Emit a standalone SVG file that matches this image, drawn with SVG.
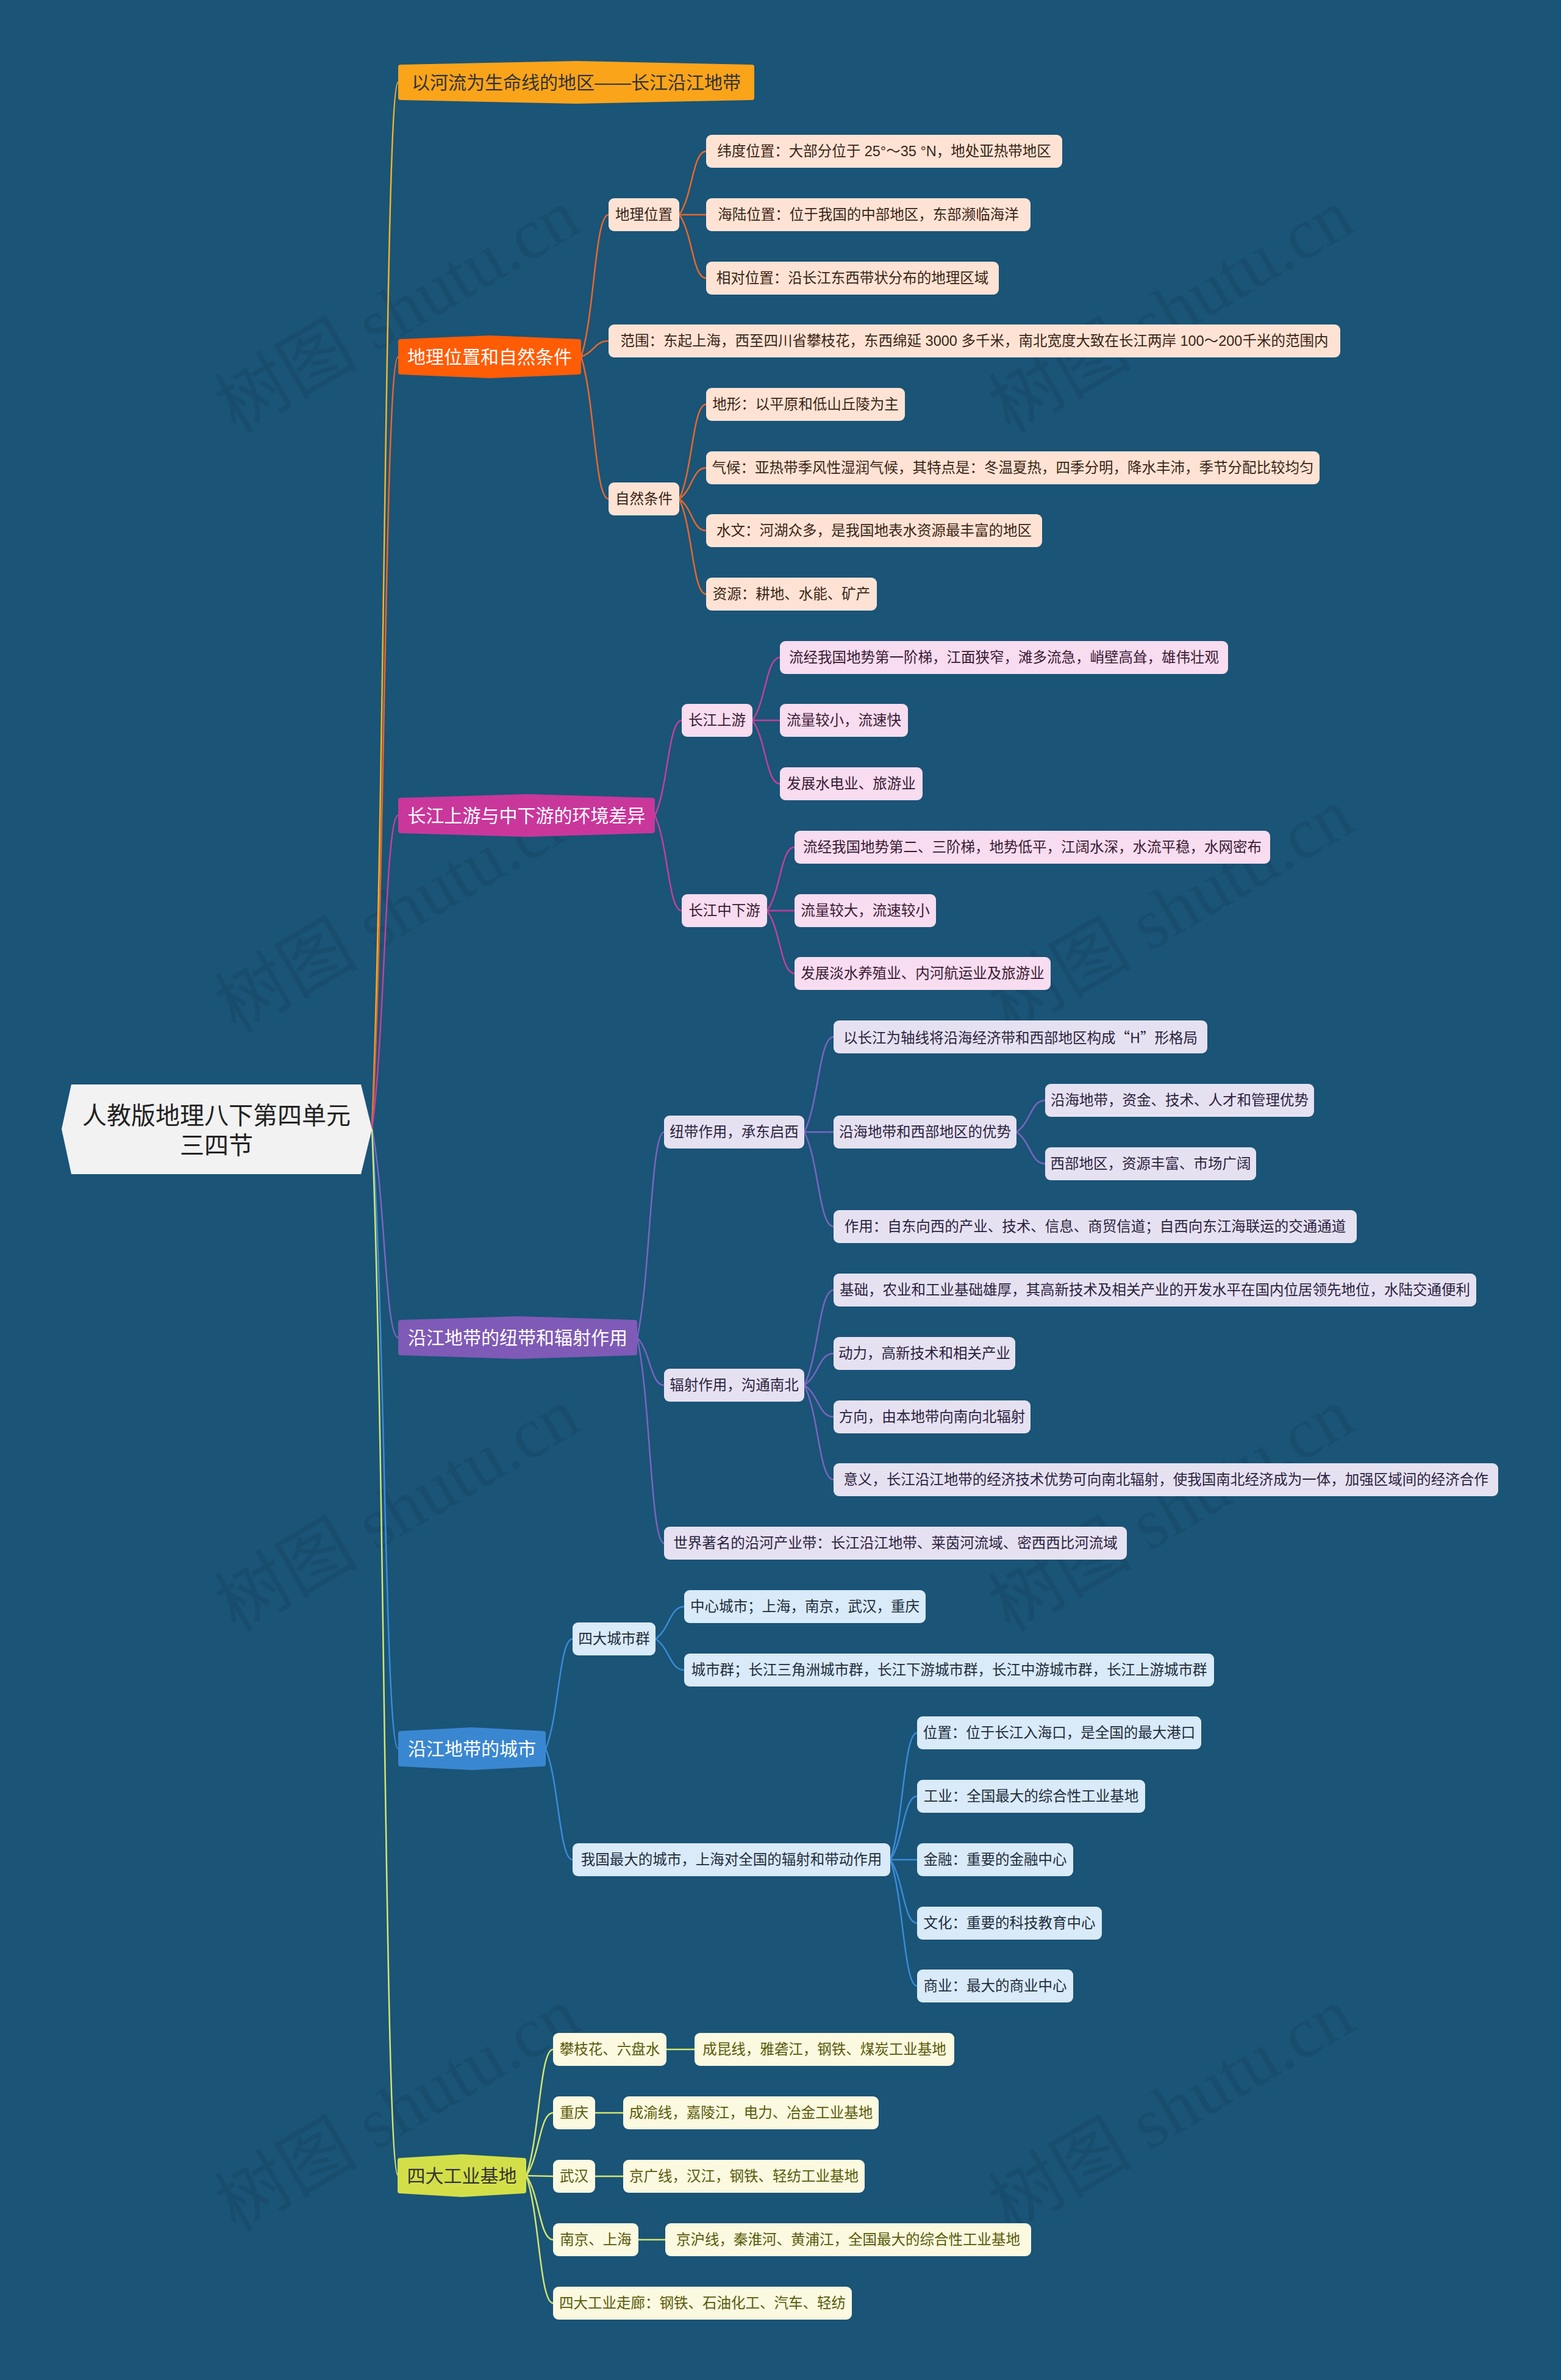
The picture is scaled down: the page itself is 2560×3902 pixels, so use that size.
<svg xmlns="http://www.w3.org/2000/svg" width="2560" height="3902" viewBox="0 0 2560 3902">
<style>
text{font-family:"Liberation Sans","Noto Sans CJK SC",sans-serif;text-anchor:middle;dominant-baseline:central}
.cjk{font-family:"Noto Sans CJK SC","Liberation Sans",sans-serif}
.wm{font-family:"Liberation Serif","Noto Sans CJK SC",serif;font-size:118px;fill:#000;fill-opacity:0.075}
.root{font-size:40px;fill:#222}
.l1{font-size:30px}
.t{font-size:23.5px}
.hex{stroke-width:8;stroke-linejoin:round}
.c{fill:none;stroke-width:2.5}
.b1{fill:#FAA41A;stroke:#FAA41A}.b2{fill:#FF5C06;stroke:#FF5C06}.b3{fill:#C9379B;stroke:#C9379B}.b4{fill:#7F5AB6;stroke:#7F5AB6}.b5{fill:#3A87D1;stroke:#3A87D1}.b6{fill:#D3DF48;stroke:#D3DF48}
.w{fill:#fff}.dk{fill:#333}
.r2{fill:#FEE3D4}.r3{fill:#F8DCEF}.r4{fill:#E6E1F1}.r5{fill:#D9EAF8}.r6{fill:#FBF9DF}
.x2{fill:#3C2415}.x3{fill:#3B1A33}.x4{fill:#2B2340}.x5{fill:#1E2D3D}.x6{fill:#5A5A0A}
.k1{stroke:#F0B429}.k2{stroke:#E8672B}.k3{stroke:#C2419A}.k4{stroke:#7A65C0}.k5{stroke:#3A8BD8}.k6{stroke:#D5E56E}
</style>
<rect width="2560" height="3902" fill="#1A5477"/>
<g id="watermarks">
<text class="wm" transform="translate(652,510) rotate(-30.4)">树图 shutu.cn</text>
<text class="wm" transform="translate(1921,510) rotate(-30.4)">树图 shutu.cn</text>
<text class="wm" transform="translate(652,1493) rotate(-30.4)">树图 shutu.cn</text>
<text class="wm" transform="translate(1921,1493) rotate(-30.4)">树图 shutu.cn</text>
<text class="wm" transform="translate(652,2476) rotate(-30.4)">树图 shutu.cn</text>
<text class="wm" transform="translate(1921,2476) rotate(-30.4)">树图 shutu.cn</text>
<text class="wm" transform="translate(652,3459) rotate(-30.4)">树图 shutu.cn</text>
<text class="wm" transform="translate(1921,3459) rotate(-30.4)">树图 shutu.cn</text>
</g>
<g id="connectors">
<path class="c k1" d="M610,1851 C631.5,1336 631.5,135 653,135"/>
<path class="c k2" d="M610,1851 C631.5,1471 631.5,585 653,585"/>
<path class="c k3" d="M610,1851 C631.5,1697 631.5,1337 653,1337"/>
<path class="c k4" d="M610,1851 C631.5,1954 631.5,2193 653,2193"/>
<path class="c k5" d="M610,1851 C631.5,2156 631.5,2867 653,2867"/>
<path class="c k6" d="M610,1851 C631.5,2366 631.5,3567 653,3567"/>
<path class="c k2" d="M953,585 C975.5,515 975.5,352 998,352"/>
<path class="c k2" d="M953,585 C975.5,577 975.5,559 998,559"/>
<path class="c k2" d="M953,585 C975.5,655 975.5,818 998,818"/>
<path class="c k2" d="M1114,352 C1136,321 1136,248 1158,248"/>
<path class="c k2" d="M1114,352 L1158,352"/>
<path class="c k2" d="M1114,352 C1136,383 1136,456 1158,456"/>
<path class="c k2" d="M1114,818 C1136,771.5 1136,663 1158,663"/>
<path class="c k2" d="M1114,818 C1136,802.7 1136,767 1158,767"/>
<path class="c k2" d="M1114,818 C1136,833.6 1136,870 1158,870"/>
<path class="c k2" d="M1114,818 C1136,864.8 1136,974 1158,974"/>
<path class="c k3" d="M1074,1337 C1096,1290 1096,1181 1118,1181"/>
<path class="c k3" d="M1074,1337 C1096,1384 1096,1493 1118,1493"/>
<path class="c k3" d="M1234,1181 C1256.5,1150 1256.5,1078 1279,1078"/>
<path class="c k3" d="M1234,1181 L1279,1181"/>
<path class="c k3" d="M1234,1181 C1256.5,1212 1256.5,1285 1279,1285"/>
<path class="c k3" d="M1258,1493 C1280.5,1462 1280.5,1389 1303,1389"/>
<path class="c k3" d="M1258,1493 L1303,1493"/>
<path class="c k3" d="M1258,1493 C1280.5,1524 1280.5,1596 1303,1596"/>
<path class="c k4" d="M1045,2193 C1067,2092 1067,1856 1089,1856"/>
<path class="c k4" d="M1045,2193 C1067,2216 1067,2271 1089,2271"/>
<path class="c k4" d="M1045,2193 C1067,2294 1067,2530 1089,2530"/>
<path class="c k4" d="M1319,1856 C1343,1809 1343,1700 1367,1700"/>
<path class="c k4" d="M1319,1856 L1367,1856"/>
<path class="c k4" d="M1319,1856 C1343,1902.5 1343,2011 1367,2011"/>
<path class="c k4" d="M1667,1856 C1690.5,1840.4 1690.5,1804 1714,1804"/>
<path class="c k4" d="M1667,1856 C1690.5,1871.6 1690.5,1908 1714,1908"/>
<path class="c k4" d="M1319,2271 C1343,2224 1343,2115 1367,2115"/>
<path class="c k4" d="M1319,2271 C1343,2255.4 1343,2219 1367,2219"/>
<path class="c k4" d="M1319,2271 C1343,2286.6 1343,2323 1367,2323"/>
<path class="c k4" d="M1319,2271 C1343,2317.5 1343,2426 1367,2426"/>
<path class="c k5" d="M895,2867 C917,2813 917,2687 939,2687"/>
<path class="c k5" d="M895,2867 C917,2921.6 917,3049 939,3049"/>
<path class="c k5" d="M1075,2687 C1098.5,2671 1098.5,2634 1122,2634"/>
<path class="c k5" d="M1075,2687 C1098.5,2702 1098.5,2738 1122,2738"/>
<path class="c k5" d="M1460,3049 C1482,2986.6 1482,2841 1504,2841"/>
<path class="c k5" d="M1460,3049 C1482,3017.8 1482,2945 1504,2945"/>
<path class="c k5" d="M1460,3049 L1504,3049"/>
<path class="c k5" d="M1460,3049 C1482,3080.2 1482,3153 1504,3153"/>
<path class="c k5" d="M1460,3049 C1482,3111 1482,3256 1504,3256"/>
<path class="c k6" d="M863,3567 C885,3505 885,3360 907,3360"/>
<path class="c k6" d="M863,3567 C885,3536 885,3464 907,3464"/>
<path class="c k6" d="M863,3567 L907,3568"/>
<path class="c k6" d="M863,3567 C885,3598.5 885,3672 907,3672"/>
<path class="c k6" d="M863,3567 C885,3630 885,3776 907,3776"/>
<path class="c k6" d="M1093,3360 L1139,3360"/>
<path class="c k6" d="M976,3464 L1022,3464"/>
<path class="c k6" d="M976,3568 L1022,3568"/>
<path class="c k6" d="M1047,3672 L1091,3672"/>
</g>
<g id="root">
<polygon points="101,1851 117,1778 592,1778 610,1851 592,1925 117,1925" fill="#F2F2F2"/>
<text class="root" x="355" y="1829">人教版地理八下第四单元</text>
<text class="root" x="355" y="1878">三四节</text>
</g>
<g id="n1">
<polygon class="hex b1" points="657,110 945,104 1233,110 1233,160 945,166 657,160"/>
<text class="l1 dk" x="945" y="135">以河流为生命线的地区——长江沿江地带</text>
</g>
<g id="n2">
<polygon class="hex b2" points="657,560 803,554 949,560 949,610 803,616 657,610"/>
<text class="l1 w" x="803" y="585">地理位置和自然条件</text>
</g>
<g id="n2a"><rect class="r2" x="998" y="325" width="116" height="54" rx="9"/><text class="t x2" x="1056" y="352">地理位置</text></g>
<g id="n2a1"><rect class="r2" x="1158" y="221" width="584" height="54" rx="9"/><text class="t x2" x="1450" y="248">纬度位置：大部分位于 25°～35 °N，地处亚热带地区</text></g>
<g id="n2a2"><rect class="r2" x="1158" y="325" width="532" height="54" rx="9"/><text class="t x2" x="1424" y="352">海陆位置：位于我国的中部地区，东部濒临海洋</text></g>
<g id="n2a3"><rect class="r2" x="1158" y="429" width="480" height="54" rx="9"/><text class="t x2" x="1398" y="456">相对位置：沿长江东西带状分布的地理区域</text></g>
<g id="n2b"><rect class="r2" x="998" y="532" width="1200" height="54" rx="9"/><text class="t x2" x="1598" y="559">范围：东起上海，西至四川省攀枝花，东西绵延 3000 多千米，南北宽度大致在长江两岸 100～200千米的范围内</text></g>
<g id="n2c"><rect class="r2" x="998" y="791" width="116" height="54" rx="9"/><text class="t x2" x="1056" y="818">自然条件</text></g>
<g id="n2c1"><rect class="r2" x="1158" y="636" width="326" height="54" rx="9"/><text class="t x2" x="1321" y="663">地形：以平原和低山丘陵为主</text></g>
<g id="n2c2"><rect class="r2" x="1158" y="740" width="1006" height="54" rx="9"/><text class="t x2" x="1661" y="767">气候：亚热带季风性湿润气候，其特点是：冬温夏热，四季分明，降水丰沛，季节分配比较均匀</text></g>
<g id="n2c3"><rect class="r2" x="1158" y="843" width="551" height="54" rx="9"/><text class="t x2" x="1433.5" y="870">水文：河湖众多，是我国地表水资源最丰富的地区</text></g>
<g id="n2c4"><rect class="r2" x="1158" y="947" width="280" height="54" rx="9"/><text class="t x2" x="1298" y="974">资源：耕地、水能、矿产</text></g>
<g id="n3">
<polygon class="hex b3" points="657,1312 863.5,1306 1070,1312 1070,1362 863.5,1368 657,1362"/>
<text class="l1 w" x="863.5" y="1337">长江上游与中下游的环境差异</text>
</g>
<g id="n3a"><rect class="r3" x="1118" y="1154" width="116" height="54" rx="9"/><text class="t x3" x="1176" y="1181">长江上游</text></g>
<g id="n3a1"><rect class="r3" x="1279" y="1051" width="735" height="54" rx="9"/><text class="t x3" x="1646.5" y="1078">流经我国地势第一阶梯，江面狭窄，滩多流急，峭壁高耸，雄伟壮观</text></g>
<g id="n3a2"><rect class="r3" x="1279" y="1154" width="210" height="54" rx="9"/><text class="t x3" x="1384" y="1181">流量较小，流速快</text></g>
<g id="n3a3"><rect class="r3" x="1279" y="1258" width="234" height="54" rx="9"/><text class="t x3" x="1396" y="1285">发展水电业、旅游业</text></g>
<g id="n3b"><rect class="r3" x="1118" y="1466" width="140" height="54" rx="9"/><text class="t x3" x="1188" y="1493">长江中下游</text></g>
<g id="n3b1"><rect class="r3" x="1303" y="1362" width="780" height="54" rx="9"/><text class="t x3" x="1693" y="1389">流经我国地势第二、三阶梯，地势低平，江阔水深，水流平稳，水网密布</text></g>
<g id="n3b2"><rect class="r3" x="1303" y="1466" width="232" height="54" rx="9"/><text class="t x3" x="1419" y="1493">流量较大，流速较小</text></g>
<g id="n3b3"><rect class="r3" x="1303" y="1569" width="420" height="54" rx="9"/><text class="t x3" x="1513" y="1596">发展淡水养殖业、内河航运业及旅游业</text></g>
<g id="n4">
<polygon class="hex b4" points="657,2168 849,2162 1041,2168 1041,2218 849,2224 657,2218"/>
<text class="l1 w" x="849" y="2193">沿江地带的纽带和辐射作用</text>
</g>
<g id="n4a"><rect class="r4" x="1089" y="1829" width="230" height="54" rx="9"/><text class="t x4" x="1204" y="1856">纽带作用，承东启西</text></g>
<g id="n4a1"><rect class="r4" x="1367" y="1673" width="613" height="54" rx="9"/><text class="t x4 cjk" x="1673.5" y="1700">以长江为轴线将沿海经济带和西部地区构成“H”形格局</text></g>
<g id="n4a2"><rect class="r4" x="1367" y="1829" width="300" height="54" rx="9"/><text class="t x4" x="1517" y="1856">沿海地带和西部地区的优势</text></g>
<g id="n4a2a"><rect class="r4" x="1714" y="1777" width="441" height="54" rx="9"/><text class="t x4" x="1934.5" y="1804">沿海地带，资金、技术、人才和管理优势</text></g>
<g id="n4a2b"><rect class="r4" x="1714" y="1881" width="346" height="54" rx="9"/><text class="t x4" x="1887" y="1908">西部地区，资源丰富、市场广阔</text></g>
<g id="n4a3"><rect class="r4" x="1367" y="1984" width="858" height="54" rx="9"/><text class="t x4" x="1796" y="2011">作用：自东向西的产业、技术、信息、商贸信道；自西向东江海联运的交通通道</text></g>
<g id="n4b"><rect class="r4" x="1089" y="2244" width="230" height="54" rx="9"/><text class="t x4" x="1204" y="2271">辐射作用，沟通南北</text></g>
<g id="n4b1"><rect class="r4" x="1367" y="2088" width="1054" height="54" rx="9"/><text class="t x4" x="1894" y="2115">基础，农业和工业基础雄厚，其高新技术及相关产业的开发水平在国内位居领先地位，水陆交通便利</text></g>
<g id="n4b2"><rect class="r4" x="1367" y="2192" width="298" height="54" rx="9"/><text class="t x4" x="1516" y="2219">动力，高新技术和相关产业</text></g>
<g id="n4b3"><rect class="r4" x="1367" y="2296" width="323" height="54" rx="9"/><text class="t x4" x="1528.5" y="2323">方向，由本地带向南向北辐射</text></g>
<g id="n4b4"><rect class="r4" x="1367" y="2399" width="1090" height="54" rx="9"/><text class="t x4" x="1912" y="2426">意义，长江沿江地带的经济技术优势可向南北辐射，使我国南北经济成为一体，加强区域间的经济合作</text></g>
<g id="n4c"><rect class="r4" x="1089" y="2503" width="759" height="54" rx="9"/><text class="t x4" x="1468.5" y="2530">世界著名的沿河产业带：长江沿江地带、莱茵河流域、密西西比河流域</text></g>
<g id="n5">
<polygon class="hex b5" points="657,2842 774,2836 891,2842 891,2892 774,2898 657,2892"/>
<text class="l1 w" x="774" y="2867">沿江地带的城市</text>
</g>
<g id="n5a"><rect class="r5" x="939" y="2660" width="136" height="54" rx="9"/><text class="t x5" x="1007" y="2687">四大城市群</text></g>
<g id="n5a1"><rect class="r5" x="1122" y="2607" width="396" height="54" rx="9"/><text class="t x5" x="1320" y="2634">中心城市；上海，南京，武汉，重庆</text></g>
<g id="n5a2"><rect class="r5" x="1122" y="2711" width="869" height="54" rx="9"/><text class="t x5" x="1556.5" y="2738">城市群；长江三角洲城市群，长江下游城市群，长江中游城市群，长江上游城市群</text></g>
<g id="n5b"><rect class="r5" x="939" y="3022" width="521" height="54" rx="9"/><text class="t x5" x="1199.5" y="3049">我国最大的城市，上海对全国的辐射和带动作用</text></g>
<g id="n5b1"><rect class="r5" x="1504" y="2814" width="466" height="54" rx="9"/><text class="t x5" x="1737" y="2841">位置：位于长江入海口，是全国的最大港口</text></g>
<g id="n5b2"><rect class="r5" x="1504" y="2918" width="374" height="54" rx="9"/><text class="t x5" x="1691" y="2945">工业：全国最大的综合性工业基地</text></g>
<g id="n5b3"><rect class="r5" x="1504" y="3022" width="256" height="54" rx="9"/><text class="t x5" x="1632" y="3049">金融：重要的金融中心</text></g>
<g id="n5b4"><rect class="r5" x="1504" y="3126" width="303" height="54" rx="9"/><text class="t x5" x="1655.5" y="3153">文化：重要的科技教育中心</text></g>
<g id="n5b5"><rect class="r5" x="1504" y="3229" width="256" height="54" rx="9"/><text class="t x5" x="1632" y="3256">商业：最大的商业中心</text></g>
<g id="n6">
<polygon class="hex b6" points="656,3542 757.5,3536 859,3542 859,3592 757.5,3598 656,3592"/>
<text class="l1 dk" x="757.5" y="3567">四大工业基地</text>
</g>
<g id="n6a"><rect class="r6" x="907" y="3333" width="186" height="54" rx="9"/><text class="t x6" x="1000" y="3360">攀枝花、六盘水</text></g>
<g id="n6a1"><rect class="r6" x="1139" y="3333" width="426" height="54" rx="9"/><text class="t x6" x="1352" y="3360">成昆线，雅砻江，钢铁、煤炭工业基地</text></g>
<g id="n6b"><rect class="r6" x="907" y="3437" width="69" height="54" rx="9"/><text class="t x6" x="941.5" y="3464">重庆</text></g>
<g id="n6b1"><rect class="r6" x="1022" y="3437" width="419" height="54" rx="9"/><text class="t x6" x="1231.5" y="3464">成渝线，嘉陵江，电力、冶金工业基地</text></g>
<g id="n6c"><rect class="r6" x="907" y="3541" width="69" height="54" rx="9"/><text class="t x6" x="941.5" y="3568">武汉</text></g>
<g id="n6c1"><rect class="r6" x="1022" y="3541" width="396" height="54" rx="9"/><text class="t x6" x="1220" y="3568">京广线，汉江，钢铁、轻纺工业基地</text></g>
<g id="n6d"><rect class="r6" x="907" y="3645" width="140" height="54" rx="9"/><text class="t x6" x="977" y="3672">南京、上海</text></g>
<g id="n6d1"><rect class="r6" x="1091" y="3645" width="600" height="54" rx="9"/><text class="t x6" x="1391" y="3672">京沪线，秦淮河、黄浦江，全国最大的综合性工业基地</text></g>
<g id="n6e"><rect class="r6" x="907" y="3749" width="490" height="54" rx="9"/><text class="t x6" x="1152" y="3776">四大工业走廊：钢铁、石油化工、汽车、轻纺</text></g>
</svg>
